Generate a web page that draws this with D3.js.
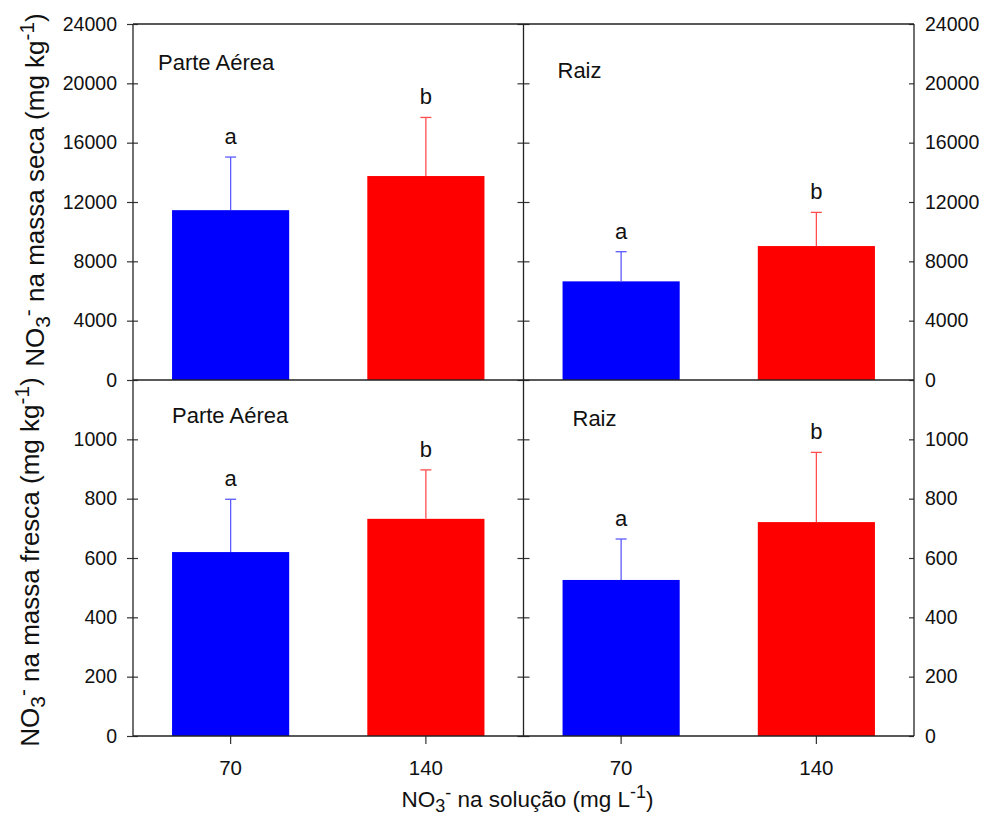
<!DOCTYPE html>
<html>
  <head>
    <meta charset="utf-8">
    <title>NO3- na massa seca e fresca</title>
    <script src="https://d3js.org/d3.v7.min.js"></script>
    <style>
      body { margin: 0; background: white; }
      svg text { font-family: "Liberation Sans", Arial, sans-serif; fill: #111; }
      .domain { display: none; }
      .tick line { stroke: #333; stroke-width: 1.2; }
    </style>
  </head>
  <body>
    <svg id="chart" width="983" height="816"></svg>
    <script>
      // data
      const doses = ["70", "140"];
      const letters = ["a", "b"];
      const secaParteMean = [11450, 13750];
      const secaParteErr = [3580, 3950];
      const secaRaizMean = [6650, 9030];
      const secaRaizErr = [2000, 2270];
      const frescaParteMean = [620, 732];
      const frescaParteErr = [178, 165];
      const frescaRaizMean = [526, 721];
      const frescaRaizErr = [138, 235];
      const secaTicks = [0, 4000, 8000, 12000, 16000, 20000, 24000];
      const frescaTicks = [0, 200, 400, 600, 800, 1000];

      const barColours = ["#0000ff", "#ff0000"];
      const errColours = ["#5a5aff", "#ff4d4d"];

      // frame
      const plotLeft = 133, plotRight = 914, plotMid = (plotLeft + plotRight) / 2;
      const plotTop = 24, plotMiddle = 380, plotBottom = 736;

      const svg = d3.select("#chart");

      const ySeca = d3.scaleLinear().domain([0, 24000]).range([plotMiddle, plotTop]);
      const yFresca = d3.scaleLinear().domain([0, 1200]).range([plotBottom, plotMiddle]);

      const panels = [
        { y: ySeca, col: 0, mean: secaParteMean, err: secaParteErr, label: "Parte Aérea", lx: 25, ly: 46 },
        { y: ySeca, col: 1, mean: secaRaizMean, err: secaRaizErr, label: "Raiz", lx: 34, ly: 54 },
        { y: yFresca, col: 0, mean: frescaParteMean, err: frescaParteErr, label: "Parte Aérea", lx: 39, ly: 43 },
        { y: yFresca, col: 1, mean: frescaRaizMean, err: frescaRaizErr, label: "Raiz", lx: 49, ly: 46 }
      ];

      const xScales = [0, 1].map(function(c) {
        const x0 = c === 0 ? plotLeft : plotMid;
        const x1 = c === 0 ? plotMid : plotRight;
        return d3.scaleBand().domain(doses).range([x0, x1]).paddingInner(0.4).paddingOuter(0.2);
      });

      panels.forEach(function(p) {
        const x = xScales[p.col];
        const g = svg.append("g");
        const rows = doses.map(function(d, i) {
          return { dose: d, mean: p.mean[i], err: p.err[i], letter: letters[i], i: i };
        });
        // bars
        g.selectAll("rect")
          .data(rows)
          .enter().append("rect")
            .attr("x", function(d) { return x(d.dose); })
            .attr("width", x.bandwidth())
            .attr("y", function(d) { return p.y(d.mean); })
            .attr("height", function(d) { return p.y(0) - p.y(d.mean); })
            .attr("fill", function(d) { return barColours[d.i]; });
        // error bars (upper only)
        const cx = function(d) { return x(d.dose) + x.bandwidth() / 2; };
        g.selectAll(".err")
          .data(rows)
          .enter().append("line")
            .attr("x1", cx).attr("x2", cx)
            .attr("y1", function(d) { return p.y(d.mean); })
            .attr("y2", function(d) { return p.y(d.mean + d.err); })
            .attr("stroke", function(d) { return errColours[d.i]; })
            .attr("stroke-width", 1.3);
        g.selectAll(".cap")
          .data(rows)
          .enter().append("line")
            .attr("x1", function(d) { return cx(d) - 5.5; })
            .attr("x2", function(d) { return cx(d) + 5.5; })
            .attr("y1", function(d) { return p.y(d.mean + d.err); })
            .attr("y2", function(d) { return p.y(d.mean + d.err); })
            .attr("stroke", function(d) { return errColours[d.i]; })
            .attr("stroke-width", 1.3);
        // significance letters
        g.selectAll(".letter")
          .data(rows)
          .enter().append("text")
            .attr("x", cx)
            .attr("y", function(d) { return p.y(d.mean + d.err) - 13; })
            .attr("text-anchor", "middle")
            .style("font-size", "22px")
            .text(function(d) { return d.letter; });
        // panel label
        g.append("text")
          .attr("x", x.range()[0] + p.lx)
          .attr("y", p.y.range()[1] + p.ly)
          .style("font-size", "22px")
          .text(p.label);
      });

      // axes
      function yAxes(y, ticks) {
        // outer left, labelled
        const la = svg.append("g")
          .attr("transform", "translate(" + plotLeft + ",0)")
          .call(d3.axisLeft(y).tickValues(ticks).tickFormat(d3.format("d")).tickSize(6).tickPadding(10));
        la.selectAll(".tick line").attr("x2", -6).attr("x1", 5);
        // outer right, labelled
        svg.append("g")
          .attr("transform", "translate(" + plotRight + ",0)")
          .call(d3.axisRight(y).tickValues(ticks).tickFormat(d3.format("d")).tickSize(-5).tickPadding(11));
        // middle divider ticks
        const ma = svg.append("g")
          .attr("transform", "translate(" + plotMid + ",0)")
          .call(d3.axisLeft(y).tickValues(ticks).tickFormat("").tickSize(6));
        ma.selectAll(".tick line").attr("x2", -6).attr("x1", 6);
      }
      yAxes(ySeca, secaTicks);
      yAxes(yFresca, frescaTicks);
      svg.selectAll(".tick text").style("font-size", "19.5px").style("fill", "#111");

      xScales.forEach(function(x) {
        svg.append("g")
          .attr("transform", "translate(0," + plotBottom + ")")
          .call(d3.axisBottom(x).tickSize(8).tickPadding(16))
          .selectAll("text")
            .style("font-size", "20.5px")
            .style("fill", "#111");
      });

      // frame lines
      const frame = svg.append("g")
        .attr("stroke", "#222")
        .attr("stroke-width", 1.3);
      [plotTop, plotMiddle, plotBottom].forEach(function(yy) {
        frame.append("line").attr("x1", plotLeft).attr("x2", plotRight).attr("y1", yy).attr("y2", yy);
      });
      [plotLeft, plotMid, plotRight].forEach(function(xx) {
        frame.append("line").attr("x1", xx).attr("x2", xx).attr("y1", plotTop).attr("y2", plotBottom);
      });

      // titles: NO3- ... (mg x-1)
      function chemTitle(sel, rest, s) {
        sel.append("tspan").text("NO");
        sel.append("tspan").attr("dy", 0.22 * s).style("font-size", "0.8em").text("3");
        sel.append("tspan").attr("dy", -0.56 * s).style("font-size", "0.8em").text("-");
        sel.append("tspan").attr("dy", 0.34 * s).text(" " + rest);
        sel.append("tspan").attr("dy", -0.4 * s).style("font-size", "0.8em").text("-1");
        sel.append("tspan").attr("dy", 0.4 * s).text(")");
      }
      chemTitle(svg.append("text")
          .attr("transform", "translate(44,190) rotate(-90)")
          .attr("text-anchor", "middle")
          .style("font-size", "26px"),
        "na massa seca (mg kg", 26);
      chemTitle(svg.append("text")
          .attr("transform", "translate(39,562) rotate(-90)")
          .attr("text-anchor", "middle")
          .style("font-size", "26px"),
        "na massa fresca (mg kg", 26);
      chemTitle(svg.append("text")
          .attr("x", plotMid + 4)
          .attr("y", 807)
          .attr("text-anchor", "middle")
          .style("font-size", "22.5px"),
        "na solução (mg L", 22.5);
    </script>
  </body>
</html>
